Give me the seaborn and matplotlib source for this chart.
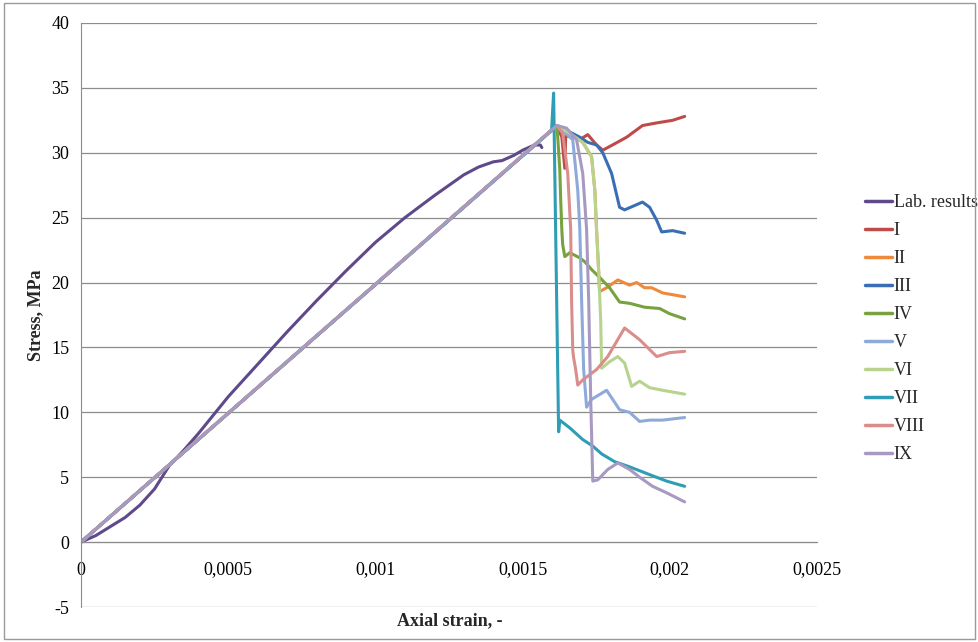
import pandas as pd
import matplotlib
matplotlib.use("Agg")
import matplotlib.pyplot as plt
import seaborn as sns

# peak of the elastic branch shared by all models
peak_x = 0.001616
peak_y = 32.1

lab_x = [0, 0.00005, 0.0001, 0.00015, 0.0002, 0.00025, 0.0003, 0.00035, 0.0004, 0.00045,
         0.0005, 0.0006, 0.0007, 0.0008, 0.0009, 0.001, 0.0011, 0.0012, 0.0013, 0.00135,
         0.0014, 0.00143, 0.00147, 0.0015, 0.00154, 0.00156, 0.001565]
lab_y = [0, 0.5, 1.2, 1.9, 2.85, 4.1, 5.9, 7.1, 8.4, 9.8,
         11.2, 13.7, 16.2, 18.6, 20.9, 23.1, 25.0, 26.7, 28.3, 28.9,
         29.3, 29.4, 29.8, 30.2, 30.6, 30.6, 30.4]

m1_x = [0.001633, 0.001643, 0.001646, 0.00167, 0.0017, 0.001721, 0.001751, 0.001772,
        0.001805, 0.001853, 0.001907, 0.001955, 0.002009, 0.00205]
m1_y = [31.2, 28.8, 31.3, 31.2, 31.1, 31.4, 30.6, 30.2, 30.6, 31.2, 32.1, 32.3, 32.5, 32.8]

m2_x = [0.00166, 0.001704, 0.001734, 0.001745, 0.001751, 0.001758, 0.001761, 0.001785,
        0.001823, 0.001863, 0.001887, 0.001914, 0.001938, 0.001975, 0.00205]
m2_y = [31.5, 30.8, 29.7, 27.1, 24.0, 20.9, 19.3, 19.6, 20.2, 19.8, 20.0, 19.6, 19.6, 19.2, 18.9]

m3_x = [0.00166, 0.001694, 0.001721, 0.001751, 0.001772, 0.001802, 0.001829, 0.001846,
        0.001907, 0.001931, 0.001955, 0.001972, 0.002009, 0.00205]
m3_y = [31.6, 31.2, 30.8, 30.6, 30.0, 28.4, 25.8, 25.6, 26.2, 25.8, 24.8, 23.9, 24.0, 23.8]

m4_x = [0.001619, 0.001626, 0.001629, 0.001633, 0.001636, 0.001643, 0.00166, 0.001694,
        0.001711, 0.001734, 0.001761, 0.001795, 0.001829, 0.001863, 0.001914, 0.001965,
        0.001999, 0.00205]
m4_y = [31.2, 28.7, 26.4, 24.0, 22.9, 22.0, 22.3, 21.9, 21.6, 21.0, 20.4, 19.6, 18.5,
        18.4, 18.1, 18.0, 17.6, 17.2]

m5_x = [0.00167, 0.001687, 0.001694, 0.0017, 0.001707, 0.001717, 0.001734, 0.001785,
        0.001829, 0.001863, 0.001897, 0.001931, 0.001975, 0.00205]
m5_y = [31.0, 27.1, 24.1, 18.7, 13.3, 10.4, 11.0, 11.7, 10.2, 10.0, 9.3, 9.4, 9.4, 9.6]

m6_x = [0.00166, 0.001704, 0.001734, 0.001745, 0.001751, 0.001758, 0.001765, 0.001768,
        0.001795, 0.001823, 0.001846, 0.00187, 0.001897, 0.001931, 0.001975, 0.00205]
m6_y = [31.5, 30.8, 29.7, 27.1, 24.0, 20.9, 17.0, 13.4, 13.9, 14.3, 13.8, 12.0, 12.4,
        11.9, 11.7, 11.4]

m7_x = [0.001598, 0.001605, 0.001622, 0.001626, 0.00166, 0.001704, 0.001738, 0.001768,
        0.001812, 0.001863, 0.001931, 0.001989, 0.00205]
m7_y = [31.7, 34.6, 8.5, 9.4, 8.8, 7.9, 7.4, 6.8, 6.2, 5.8, 5.2, 4.7, 4.3]

m8_x = [0.001636, 0.001653, 0.001663, 0.001666, 0.00167, 0.001673, 0.00168, 0.001687,
        0.001704, 0.001751, 0.001789, 0.001846, 0.001897, 0.001955, 0.001999, 0.00205]
m8_y = [31.5, 28.4, 24.1, 18.7, 14.8, 14.2, 13.3, 12.1, 12.5, 13.3, 14.3, 16.5, 15.6,
        14.3, 14.6, 14.7]

m9_x = [0.001649, 0.001683, 0.001704, 0.001717, 0.001724, 0.001731, 0.001738, 0.001755,
        0.001789, 0.001823, 0.001863, 0.001897, 0.001941, 0.001989, 0.00205]
m9_y = [31.9, 31.0, 28.4, 24.1, 18.7, 11.0, 4.7, 4.8, 5.6, 6.1, 5.6, 5.0, 4.3, 3.8, 3.1]

names = ["Lab. results", "I", "II", "III", "IV", "V", "VI", "VII", "VIII", "IX"]
colors = ["#5E4A8B", "#BE4B48", "#EE8A3C", "#3A6EB4", "#77A23F", "#8EAADB",
          "#B8D38E", "#2E9DB5", "#DA8E8C", "#A899C2"]

x_ticks = [0, 0.0005, 0.001, 0.0015, 0.002, 0.0025]
x_labels = ["0", "0,0005", "0,001", "0,0015", "0,002", "0,0025"]
y_ticks = [-5, 0, 5, 10, 15, 20, 25, 30, 35, 40]

models = [(m1_x, m1_y), (m2_x, m2_y), (m3_x, m3_y), (m4_x, m4_y), (m5_x, m5_y),
          (m6_x, m6_y), (m7_x, m7_y), (m8_x, m8_y), (m9_x, m9_y)]

frames = [pd.DataFrame({"strain": lab_x, "stress": lab_y, "series": names[0]})]
for name, (mx, my) in zip(names[1:], models):
    if mx[0] < peak_x:
        xs, ys = [0] + mx, [0] + my
    else:
        xs, ys = [0, peak_x] + mx, [0, peak_y] + my
    frames.append(pd.DataFrame({"strain": xs, "stress": ys, "series": name}))
df = pd.concat(frames, ignore_index=True)

sns.set_style("white")
plt.rcParams["font.family"] = ["Liberation Serif", "DejaVu Serif"]

fig = plt.figure(figsize=(9.79, 6.42), dpi=100)
ax = fig.add_axes([0.0827, 0.0545, 0.752, 0.9097])

sns.lineplot(data=df, x="strain", y="stress", hue="series", hue_order=names,
             palette=colors, sort=False, estimator=None, linewidth=2.2, ax=ax)

ax.set_xlim(0, 0.0025)
ax.set_ylim(-5, 40)
ax.set_yticks(y_ticks)
ax.set_yticklabels([str(v) for v in y_ticks])
ax.set_xticks(x_ticks)
ax.set_xticklabels(x_labels)
ax.yaxis.grid(True, color="#8C8C8C", linewidth=0.9)
ax.xaxis.grid(False)
ax.set_axisbelow(True)

for s in ["top", "right"]:
    ax.spines[s].set_visible(False)
ax.spines["bottom"].set_position(("data", 0))
ax.spines["bottom"].set_color("#8C8C8C")
ax.spines["left"].set_color("#8C8C8C")
ax.tick_params(axis="both", direction="out", length=5, color="#8C8C8C", width=0.9,
               labelcolor="black", labelsize=13)
ax.tick_params(axis="x", pad=9)

ax.set_xlabel("")
ax.set_ylabel("Stress, MPa", fontsize=13, fontweight="bold", labelpad=5)
fig.text(0.459, 0.033, "Axial strain, -", fontsize=13, fontweight="bold",
         ha="center", va="center")

leg = ax.legend(loc="upper left", bbox_to_anchor=(0.8667, 0.723),
                bbox_transform=fig.transFigure, frameon=False, fontsize=13,
                handlelength=1.5, handletextpad=0.1, labelspacing=0.61)
for line in leg.get_lines():
    line.set_linewidth(2.5)

fig.patches.append(plt.Rectangle((0.004, 0.004), 0.992, 0.992, transform=fig.transFigure,
                                 fill=False, edgecolor="#9A9A9A", linewidth=1.0))

fig.savefig("out.png", dpi=100)
